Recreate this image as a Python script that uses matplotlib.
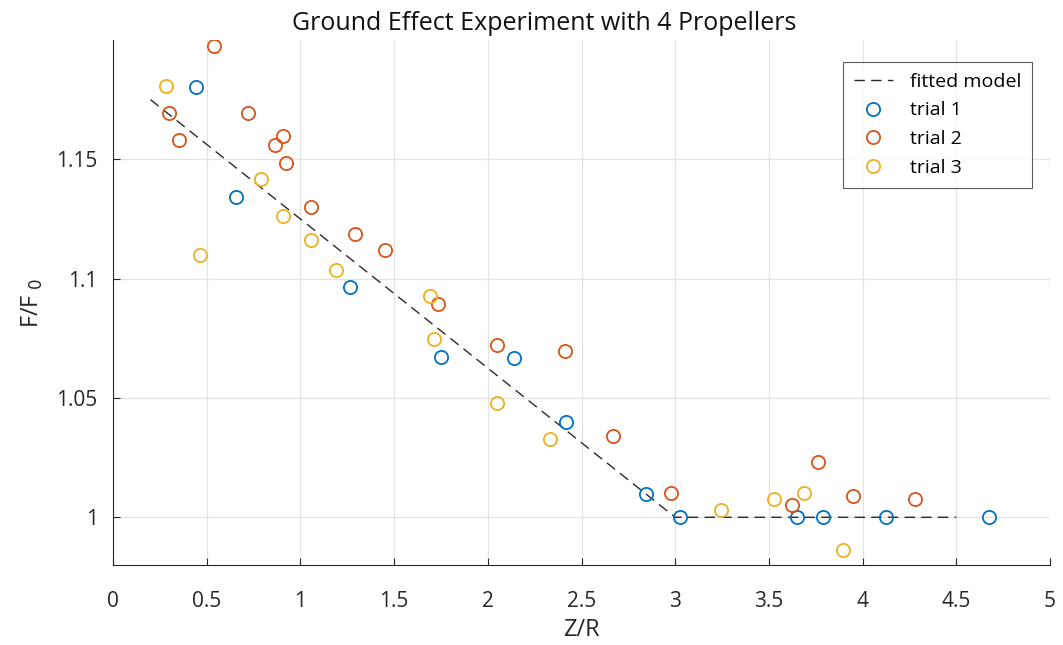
import numpy as np
import matplotlib.pyplot as plt

# trial data (Z/R, F/F0)
t1_x = [0.443, 0.656, 1.265, 1.750, 2.140, 2.417, 2.844, 3.026, 3.650, 3.789, 4.125, 4.674]
t1_y = [1.1804, 1.1342, 1.0963, 1.0671, 1.0667, 1.0400, 1.0096, 1.0, 1.0, 1.0, 1.0, 1.0]

t2_x = [0.539, 0.299, 0.352, 0.720, 0.864, 0.907, 0.923, 1.057, 1.291, 1.451,
        1.734, 2.049, 2.412, 2.668, 2.978, 3.623, 3.762, 3.949, 4.280]
t2_y = [1.1975, 1.1692, 1.1583, 1.1692, 1.1558, 1.1596, 1.1483, 1.1300, 1.1188, 1.1121,
        1.0892, 1.0721, 1.0696, 1.0342, 1.0100, 1.0050, 1.0233, 1.0088, 1.0075]

t3_x = [0.283, 0.464, 0.790, 0.907, 1.057, 1.190, 1.692, 1.713, 2.049, 2.332,
        3.244, 3.527, 3.687, 3.895]
t3_y = [1.1808, 1.1100, 1.1417, 1.1263, 1.1163, 1.1038, 1.0929, 1.0746, 1.0479, 1.0329,
        1.0029, 1.0075, 1.0100, 0.9863]

# fitted model (piecewise linear)
fit_x = [0.2, 3.0, 4.5]
fit_y = [1.175, 1.0, 1.0]

xticks = [0, 0.5, 1, 1.5, 2, 2.5, 3, 3.5, 4, 4.5, 5]
xtick_labels = ['0', '0.5', '1', '1.5', '2', '2.5', '3', '3.5', '4', '4.5', '5']
yticks = [1.0, 1.05, 1.1, 1.15]
ytick_labels = ['1', '1.05', '1.1', '1.15']

plt.rcParams['font.family'] = ['Open Sans', 'DejaVu Sans']

fig = plt.figure(figsize=(10.63, 6.45), dpi=100)
ax = fig.add_axes([0.1063, 0.124, 0.8815, 0.814])

ax.plot(fit_x, fit_y, color='#2a2a2a', lw=1.0, dashes=(7.5, 4.5), label='fitted model', zorder=2)
ms = 9.5
ax.plot(t1_x, t1_y, 'o', mfc='none', mec='#0072BD', ms=ms, mew=1.3, label='trial 1', zorder=3)
ax.plot(t2_x, t2_y, 'o', mfc='none', mec='#D95319', ms=ms, mew=1.3, label='trial 2', zorder=3)
ax.plot(t3_x, t3_y, 'o', mfc='none', mec='#EDB120', ms=ms, mew=1.3, label='trial 3', zorder=3)

ax.set_xlim(0, 5)
ax.set_ylim(0.98, 1.2)
ax.set_xticks(xticks)
ax.set_xticklabels(xtick_labels)
ax.set_yticks(yticks)
ax.set_yticklabels(ytick_labels)
ax.tick_params(direction='in', length=5, width=0.8, labelsize=15, colors='#262626')
ax.tick_params(axis='x', pad=19)
ax.tick_params(axis='y', pad=11)
ax.grid(True, color='#e3e3e3', lw=0.9)
ax.set_axisbelow(True)
for s in ['top', 'right']:
    ax.spines[s].set_visible(False)
for s in ['left', 'bottom']:
    ax.spines[s].set_color('#262626')
    ax.spines[s].set_linewidth(0.8)

ax.set_xlabel('Z/R', fontsize=17, color='#262626', labelpad=4)
ax.set_ylabel('F/F$_{\\ 0}$', fontsize=17, color='#262626', labelpad=8)
ax.set_title('Ground Effect Experiment with 4 Propellers', fontsize=18, color='#111111',
             pad=7, x=0.46)

leg = ax.legend(loc='upper right', bbox_to_anchor=(0.981, 0.958), borderaxespad=0,
                fontsize=14, frameon=True, fancybox=False, handlelength=2.0,
                borderpad=0.55, labelspacing=0.55, handletextpad=0.9)
leg.get_frame().set_edgecolor('#333333')
leg.get_frame().set_linewidth(0.8)

fig.savefig('out.png', dpi=100)
